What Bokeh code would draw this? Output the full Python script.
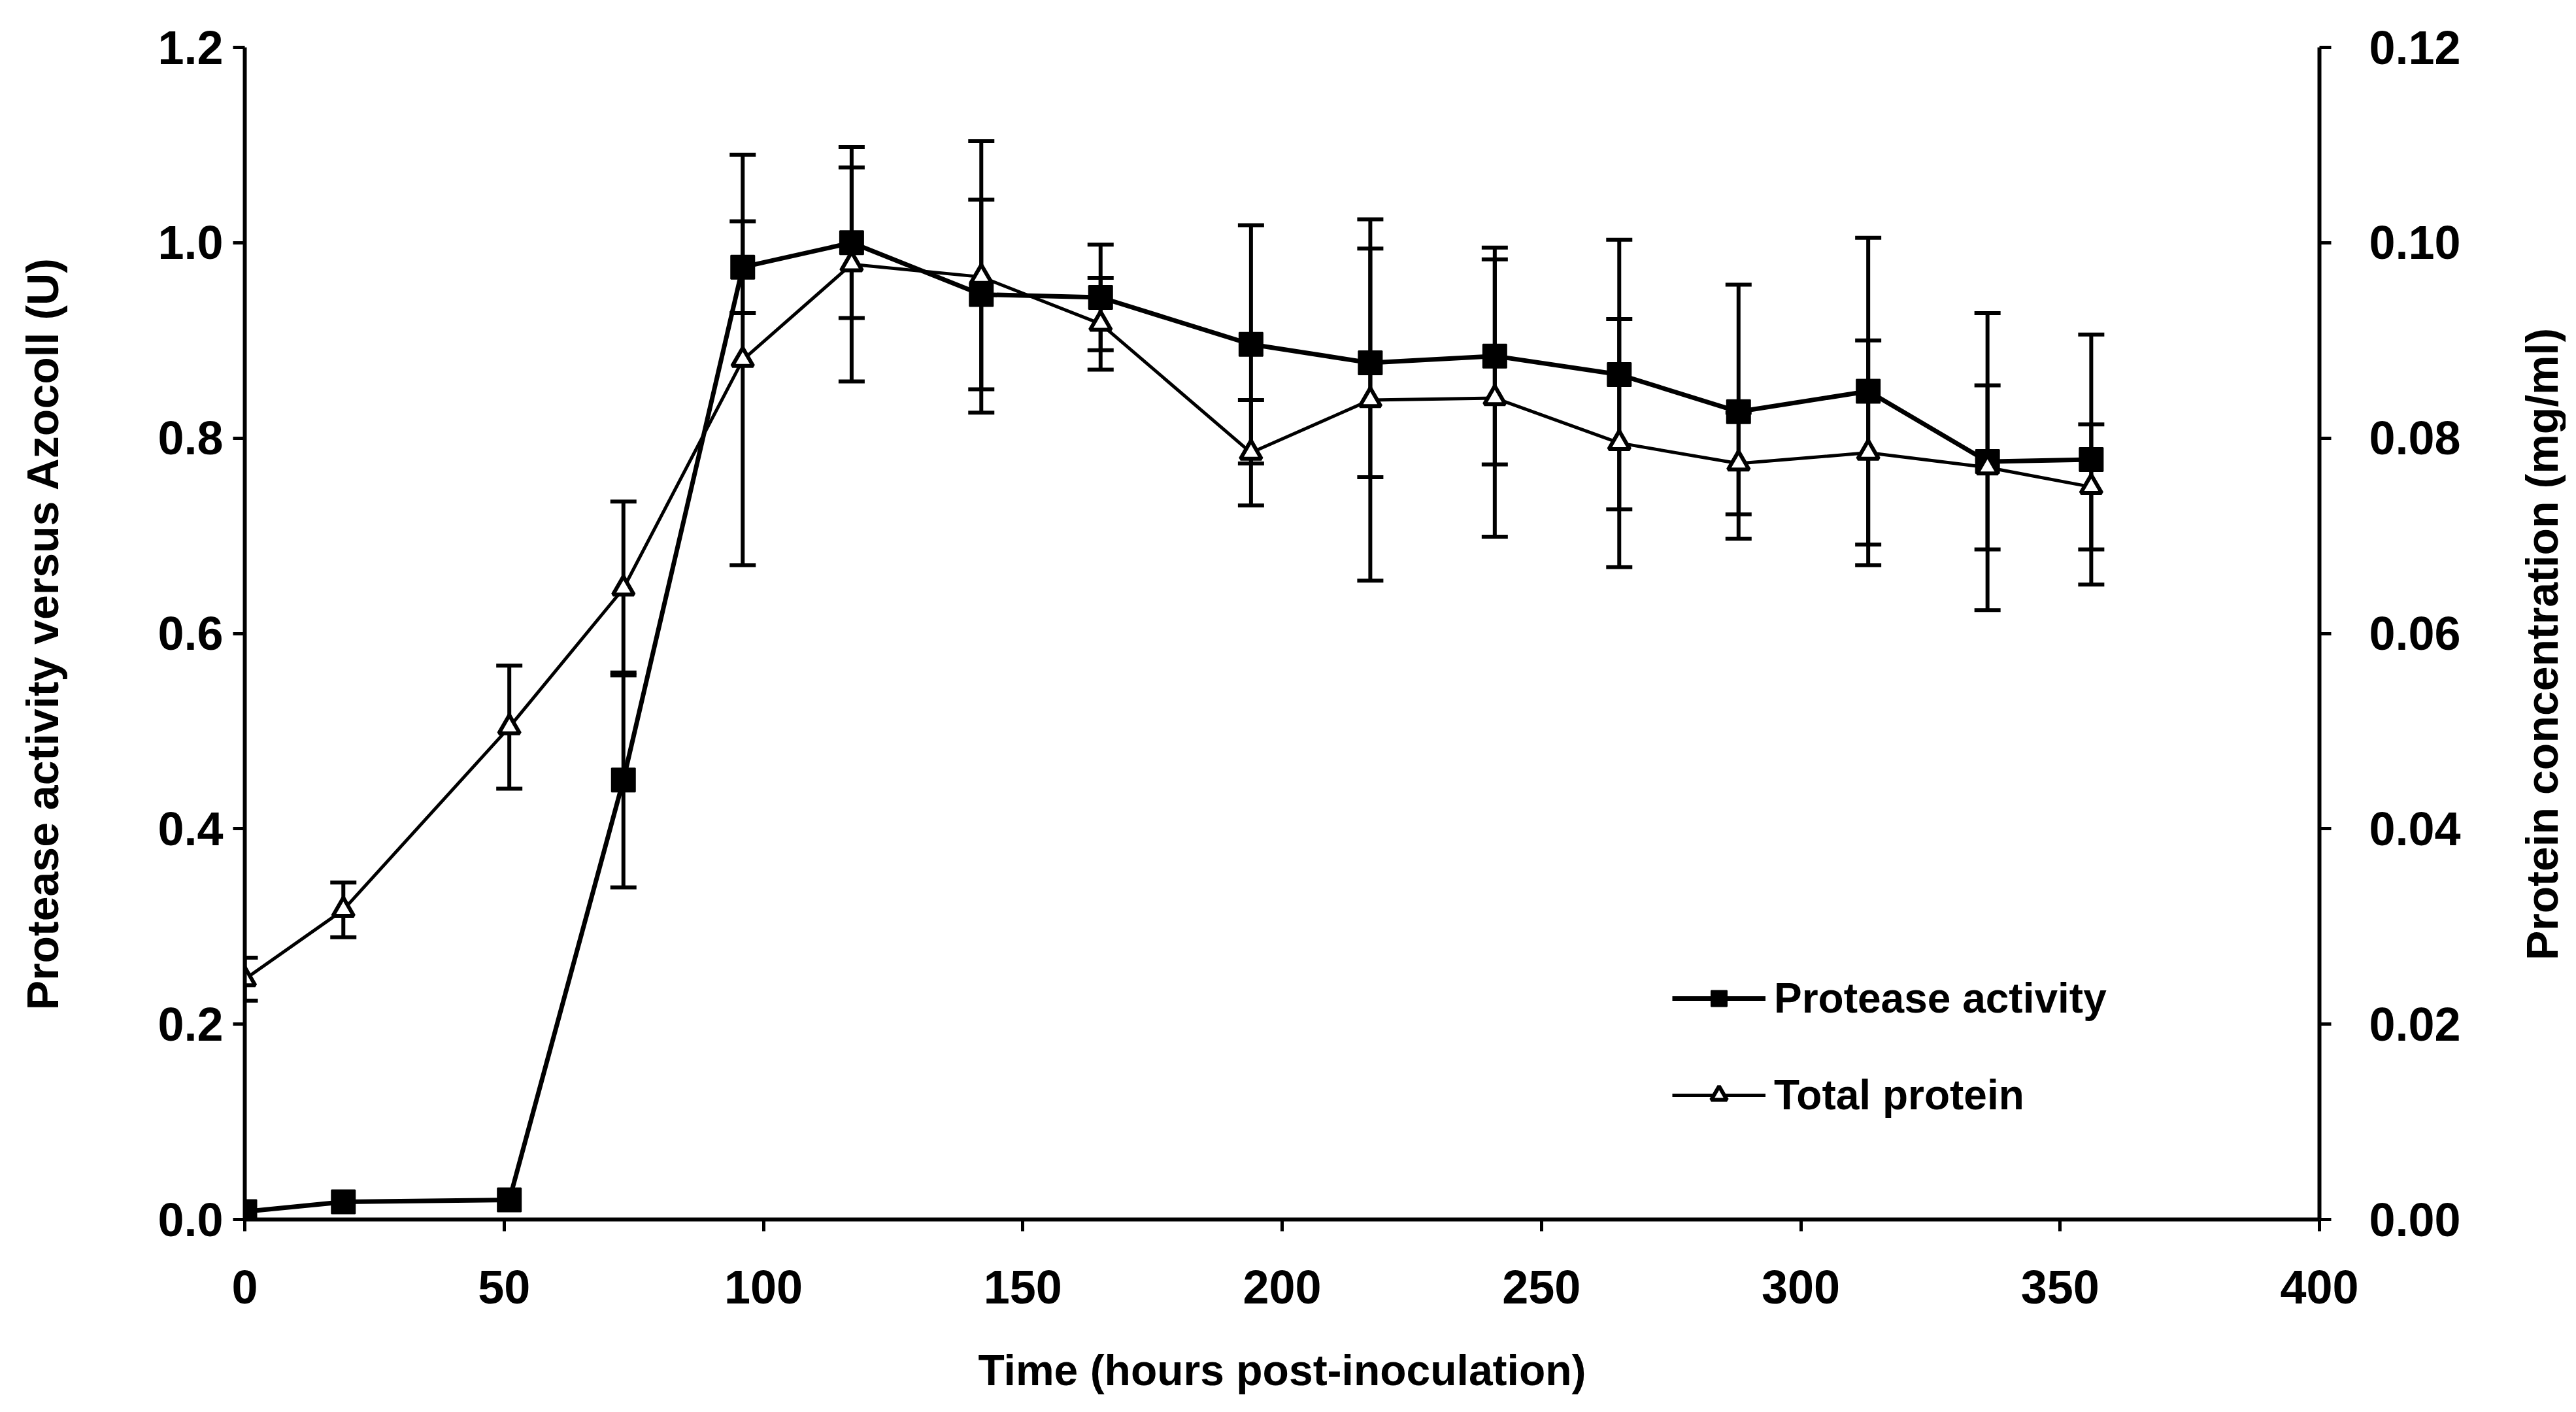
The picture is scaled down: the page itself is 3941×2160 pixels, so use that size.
import math
from bokeh.plotting import figure
from bokeh.layouts import row
from bokeh.models import (Range1d, LinearAxis, FixedTicker, NumeralTickFormatter,
                          Legend, LegendItem)
from bokeh.core.properties import value
from bokeh.embed import file_html
from bokeh.resources import INLINE

# ---- data ----
time_h = [0, 19, 51, 73, 96, 117, 142, 165, 194, 217, 241, 265, 288, 313, 336, 356]
protease = [0.008, 0.018, 0.02, 0.45, 0.975, 1.0, 0.947, 0.944, 0.896, 0.877,
            0.884, 0.865, 0.827, 0.848, 0.776, 0.778]
protease_err = [0, 0, 0, 0.11, 0.047, 0.077, 0.097, 0.054, 0.122, 0.117,
                0.111, 0.138, 0.13, 0.157, 0.152, 0.128]
protein = [0.0246, 0.0317, 0.0504, 0.0646, 0.088, 0.0978, 0.0965, 0.0917, 0.0785,
           0.0839, 0.0841, 0.0795, 0.0774, 0.0785, 0.0770, 0.0750]
protein_err = [0.0022, 0.0028, 0.0063, 0.0089, 0.021, 0.012, 0.0139, 0.0047, 0.0054,
               0.0185, 0.0142, 0.0127, 0.0052, 0.0115, 0.0084, 0.0064]

x_ticks = [0, 50, 100, 150, 200, 250, 300, 350, 400]
left_ticks = [0.0, 0.2, 0.4, 0.6, 0.8, 1.0, 1.2]
right_ticks = [0.0, 0.02, 0.04, 0.06, 0.08, 0.10, 0.12]

x_title = "Time (hours post-inoculation)"
left_title = "Protease activity versus Azocoll (U)"
right_title = "Protein concentration (mg/ml)"

FONT = "Liberation Sans"
TOTAL_W, H = 3925, 2144
TOP, BOTTOM, LEFT, FRAME_RIGHT = 72, 279, 374, 3548
TITLE_W = 95

p = figure(width=TOTAL_W - TITLE_W, height=H, output_backend="svg", toolbar_location=None,
           x_range=Range1d(0, 400), y_range=Range1d(0, 1.2),
           min_border_left=LEFT, min_border_right=TOTAL_W - TITLE_W - FRAME_RIGHT,
           min_border_top=TOP, min_border_bottom=BOTTOM)
p.extra_y_ranges = {"protein": Range1d(0, 0.12)}
p.grid.visible = False
p.outline_line_color = None
p.background_fill_color = "white"
p.border_fill_color = "white"


def style_axis(ax, label_standoff, title_standoff):
    ax.axis_line_width = 6
    ax.axis_line_color = "black"
    ax.major_tick_line_width = 5
    ax.major_tick_out = 18
    ax.major_tick_in = 0
    ax.minor_tick_line_color = None
    ax.major_label_text_font = FONT
    ax.major_label_text_font_size = "72px"
    ax.major_label_text_font_style = "bold"
    ax.major_label_text_color = "black"
    ax.major_label_standoff = label_standoff
    ax.axis_label_text_font = FONT
    ax.axis_label_text_font_size = "68px"
    ax.axis_label_text_font_style = "bold"
    ax.axis_label_text_color = "black"
    ax.axis_label_standoff = title_standoff


xa = p.xaxis[0]
xa.ticker = FixedTicker(ticks=x_ticks)
xa.axis_label = x_title
style_axis(xa, 60, 62)
xa.axis_label_text_font_size = "66px"

ya = p.yaxis[0]
ya.ticker = FixedTicker(ticks=left_ticks)
ya.formatter = NumeralTickFormatter(format="0.0")
ya.axis_label = left_title
style_axis(ya, 15, 135)

ra = LinearAxis(y_range_name="protein")
ra.ticker = FixedTicker(ticks=right_ticks)
ra.formatter = NumeralTickFormatter(format="0.00")
style_axis(ra, 58, 0)
p.add_layout(ra, "right")

# ---- error bars ----
pa_t = [t for t, e in zip(time_h, protease_err) if e > 0]
pa_lo = [v - e for v, e in zip(protease, protease_err) if e > 0]
pa_hi = [v + e for v, e in zip(protease, protease_err) if e > 0]
tp_lo = [v - e for v, e in zip(protein, protein_err)]
tp_hi = [v + e for v, e in zip(protein, protein_err)]

p.segment(x0=pa_t, y0=pa_lo, x1=pa_t, y1=pa_hi, line_color="black", line_width=6)
p.scatter(pa_t, pa_lo, marker="dash", size=40, line_color="black", line_width=6)
p.scatter(pa_t, pa_hi, marker="dash", size=40, line_color="black", line_width=6)

p.segment(x0=time_h, y0=tp_lo, x1=time_h, y1=tp_hi, line_color="black", line_width=6,
          y_range_name="protein")
p.scatter(time_h, tp_lo, marker="dash", size=40, line_color="black", line_width=6,
          y_range_name="protein")
p.scatter(time_h, tp_hi, marker="dash", size=40, line_color="black", line_width=6,
          y_range_name="protein")

# ---- series ----
pa_line = p.line(time_h, protease, line_color="black", line_width=7)
tp_line = p.line(time_h, protein, line_color="black", line_width=5, y_range_name="protein")
pa_pts = p.scatter(time_h, protease, marker="square", size=36, fill_color="black",
                   line_color="black", line_width=2)
tp_pts = p.scatter(time_h, protein, marker="triangle", size=32, fill_color="white",
                   line_color="black", line_width=6, y_range_name="protein")

legend = Legend(items=[LegendItem(label="Protease activity", renderers=[pa_line, pa_pts]),
                       LegendItem(label="Total protein", renderers=[tp_line, tp_pts])],
                location=(2184, 153), orientation="vertical",
                glyph_width=143, glyph_height=60, label_height=60, spacing=74,
                label_standoff=13, padding=0, margin=0,
                border_line_color=None, background_fill_alpha=0,
                label_text_font=FONT, label_text_font_size="64px",
                label_text_font_style="bold", label_text_color="black")
p.add_layout(legend)

# ---- narrow strip holding the right-hand title (reads bottom-to-top) ----
frame_h = H - TOP - BOTTOM
pt = figure(width=TITLE_W, height=H, output_backend="svg", toolbar_location=None,
            x_range=Range1d(0, TITLE_W), y_range=Range1d(0, frame_h),
            x_axis_type=None, y_axis_type=None,
            min_border_left=0, min_border_right=0,
            min_border_top=TOP, min_border_bottom=BOTTOM)
pt.grid.visible = False
pt.outline_line_color = None
pt.background_fill_color = "white"
pt.border_fill_color = "white"
pt.text(x=[58], y=[H - BOTTOM - 985], text=[right_title], angle=math.pi / 2,
        text_align="center", text_baseline="alphabetic",
        text_font=value(FONT), text_font_size="68px", text_font_style="bold",
        text_color="black")

root = row(p, pt, spacing=0)
open("out.html", "w").write(file_html(root, INLINE))
